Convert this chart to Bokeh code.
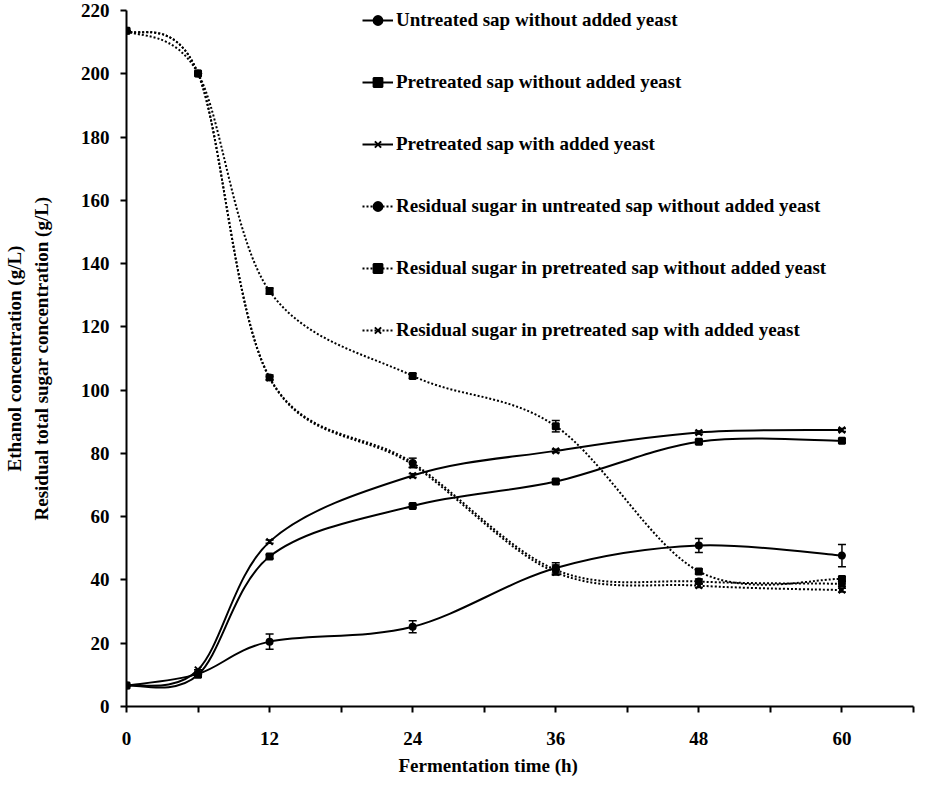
import numpy as np
from bokeh.plotting import figure
from bokeh.models import (ColumnDataSource, FixedTicker, Legend, LegendItem,
                          Whisker, TeeHead, Range1d, LinearAxis, Title)
from bokeh.embed import file_html
from bokeh.resources import INLINE

# ---------------- data ----------------
time_h = [0, 6, 12, 24, 36, 48, 60]

eth_untreated = [6.6, 10.3, 20.5, 25.2, 43.8, 50.9, 47.7]
eth_untreated_err = [0, 0, 2.4, 1.9, 1.6, 2.2, 3.5]
eth_pre_noyeast = [6.6, 10.0, 47.4, 63.4, 71.1, 83.7, 84.0]
eth_pre_noyeast_err = [0, 0, 0.6, 0.5, 0.6, 0.6, 0.6]
eth_pre_yeast = [6.6, 11.6, 52.1, 73.0, 80.8, 86.6, 87.4]
eth_pre_yeast_err = [0, 0, 0.5, 0.6, 0.5, 0.5, 0.5]

sug_untreated = [213.6, 200.1, 104.0, 77.0, 43.2, 39.5, 38.8]
sug_untreated_err = [0, 0, 0.8, 1.5, 1.5, 0.8, 0.8]
sug_pre_noyeast = [213.6, 200.1, 131.3, 104.5, 88.6, 42.7, 40.3]
sug_pre_noyeast_err = [0, 0, 1.0, 0.8, 1.8, 0.8, 0.8]
sug_pre_yeast = [213.6, 200.1, 103.8, 76.4, 42.4, 38.2, 36.8]
sug_pre_yeast_err = [0, 0, 0.5, 0.8, 0.8, 0.6, 0.6]

labels = [
    "Untreated sap without added yeast",
    "Pretreated sap without added yeast",
    "Pretreated sap with added yeast",
    "Residual sugar in untreated sap without added yeast",
    "Residual sugar in pretreated sap without added yeast",
    "Residual sugar in pretreated sap with added yeast",
]
x_ticks = [0, 6, 12, 18, 24, 30, 36, 42, 48, 54, 60, 66]
y_ticks = [0, 20, 40, 60, 80, 100, 120, 140, 160, 180, 200, 220]
x_title = "Fermentation time (h)"
y_title_outer = "Ethanol concentration (g/L)"
y_title_inner = "Residual total sugar concentration (g/L)"

FONT = "Liberation Serif"

series = [
    (eth_untreated, eth_untreated_err, "circle", "solid"),
    (eth_pre_noyeast, eth_pre_noyeast_err, "square", "solid"),
    (eth_pre_yeast, eth_pre_yeast_err, "x", "solid"),
    (sug_untreated, sug_untreated_err, "circle", "2 2"),
    (sug_pre_noyeast, sug_pre_noyeast_err, "square", "2 2"),
    (sug_pre_yeast, sug_pre_yeast_err, "x", "2 2"),
]


def smooth_segments(xs, ys):
    """Cubic Bezier pieces through the data points (spreadsheet-style smoothing)."""
    n = len(xs)
    d = dict(x0=[], y0=[], x1=[], y1=[], cx0=[], cy0=[], cx1=[], cy1=[])
    for i in range(n - 1):
        i0 = max(i - 1, 0)
        i3 = min(i + 2, n - 1)
        d["x0"].append(xs[i]); d["y0"].append(ys[i])
        d["x1"].append(xs[i + 1]); d["y1"].append(ys[i + 1])
        d["cx0"].append(xs[i] + (xs[i + 1] - xs[i0]) / 6.0)
        d["cy0"].append(ys[i] + (ys[i + 1] - ys[i0]) / 6.0)
        d["cx1"].append(xs[i + 1] - (xs[i3] - xs[i]) / 6.0)
        d["cy1"].append(ys[i + 1] - (ys[i3] - ys[i]) / 6.0)
    return d


p = figure(frame_width=787, frame_height=696, output_backend="svg",
           toolbar_location=None, x_range=Range1d(0, 66), y_range=Range1d(0, 220),
           min_border_left=120, min_border_right=7, min_border_top=10,
           min_border_bottom=67)

p.xgrid.visible = False
p.ygrid.visible = False
p.outline_line_color = None
p.background_fill_color = "white"
p.border_fill_color = "white"

for ax in (p.xaxis[0], p.yaxis[0]):
    ax.axis_line_width = 2
    ax.axis_line_color = "black"
    ax.major_tick_line_width = 2
    ax.major_tick_line_color = "black"
    ax.major_tick_in = 0
    ax.major_tick_out = 6
    ax.minor_tick_line_color = None
    ax.major_label_text_font = FONT
    ax.major_label_text_font_style = "bold"
    ax.major_label_text_font_size = "19px"
    ax.major_label_text_color = "black"
    ax.axis_label_text_font = FONT
    ax.axis_label_text_font_style = "bold"
    ax.axis_label_text_font_size = "19px"
    ax.axis_label_text_color = "black"

p.xaxis.ticker = FixedTicker(ticks=x_ticks)
p.xaxis.major_label_overrides = {t: ("" if t % 12 else str(t)) for t in x_ticks}
p.xaxis.major_label_standoff = 19
p.yaxis.ticker = FixedTicker(ticks=y_ticks)
p.yaxis.major_label_standoff = 11
p.yaxis.axis_label = y_title_inner
p.yaxis.axis_label_standoff = 26

# outer (label-only) axis carrying the first line of the y title
ax2 = LinearAxis(ticker=FixedTicker(ticks=[]), axis_line_color=None,
                 major_tick_line_color=None, minor_tick_line_color=None,
                 major_tick_out=0, major_label_standoff=0,
                 major_label_text_font_size="0px",
                 axis_label=y_title_outer, axis_label_standoff=3,
                 axis_label_text_font=FONT, axis_label_text_font_style="bold",
                 axis_label_text_font_size="19px", axis_label_text_color="black")
p.add_layout(ax2, "left")

p.add_layout(Title(text=x_title, align="left", offset=272, standoff=10,
                   text_font=FONT, text_font_style="bold",
                   text_font_size="19px", text_color="black"), "below")

items = []
for (ys, err, marker, dash), lab in zip(series, labels):
    seg = ColumnDataSource(smooth_segments(time_h, ys))
    curve = p.bezier(x0="x0", y0="y0", x1="x1", y1="y1", cx0="cx0", cy0="cy0",
                     cx1="cx1", cy1="cy1", source=seg, line_color="black",
                     line_width=2, line_dash=dash)
    src_e = ColumnDataSource(dict(x=time_h,
                                  upper=[v + e for v, e in zip(ys, err)],
                                  lower=[v - e for v, e in zip(ys, err)]))
    w = Whisker(source=src_e, base="x", upper="upper", lower="lower",
                line_color="black", line_width=1.5,
                upper_head=TeeHead(size=8, line_width=1.5, line_color="black"),
                lower_head=TeeHead(size=8, line_width=1.5, line_color="black"))
    p.add_layout(w)
    sz = 9 if marker == "x" else 6
    sc = p.scatter(time_h, ys, marker=marker, size=sz, fill_color="black",
                   line_color="black", line_width=2)
    items.append(LegendItem(label=lab, renderers=[curve, sc]))

legend = Legend(items=items, location=(236, 365), orientation="vertical",
                glyph_width=31, glyph_height=22, label_height=22,
                label_standoff=3, spacing=40, padding=0, margin=0,
                border_line_color=None, background_fill_alpha=0,
                label_text_font=FONT, label_text_font_style="bold",
                label_text_font_size="19px", label_text_color="black")
p.add_layout(legend)

open("out.html", "w").write(file_html(p, INLINE))
